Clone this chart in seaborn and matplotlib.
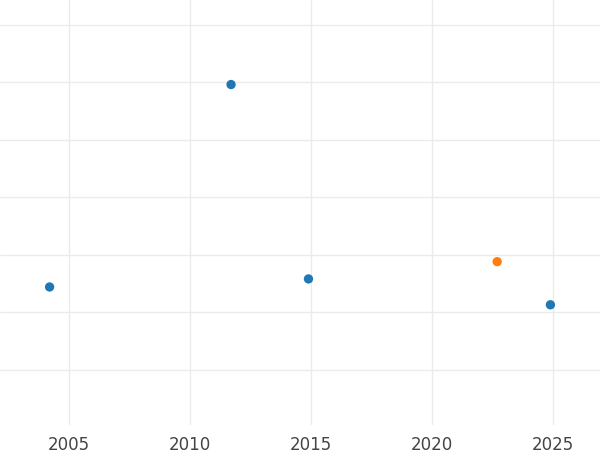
import matplotlib
matplotlib.use("Agg")
import matplotlib.pyplot as plt
import seaborn as sns
import pandas as pd

years = [2004.2, 2011.7, 2014.9, 2022.7, 2024.9]
values = [1.44, 4.96, 1.58, 1.88, 1.13]
groups = ["a", "a", "a", "b", "a"]
df = pd.DataFrame({"year": years, "value": values, "group": groups})

sns.set_style("white")
fig = plt.figure(figsize=(6, 4.5), dpi=100, facecolor="white")
ax = fig.add_axes([0, 25/450, 1, 425/450], facecolor="white")
sns.scatterplot(data=df, x="year", y="value", hue="group",
                palette={"a": "#1f77b4", "b": "#ff7f0e"}, s=45, edgecolor="none",
                legend=False, ax=ax, zorder=3)
ax.set_xlim(2002.15, 2026.95)
ax.set_ylim(-0.96, 6.43)
ax.set_xticks([2005, 2010, 2015, 2020, 2025])
ax.set_yticks(range(0, 7))
ax.set_yticklabels([])
ax.grid(True, color="#ebebeb", linewidth=1)
for s in ax.spines.values():
    s.set_visible(False)
ax.tick_params(axis="both", length=0, labelsize=12, labelcolor="#444444")
ax.tick_params(axis="x", pad=8)
ax.set_xlabel("")
ax.set_ylabel("")
fig.savefig("out.png", dpi=100, facecolor="white")
